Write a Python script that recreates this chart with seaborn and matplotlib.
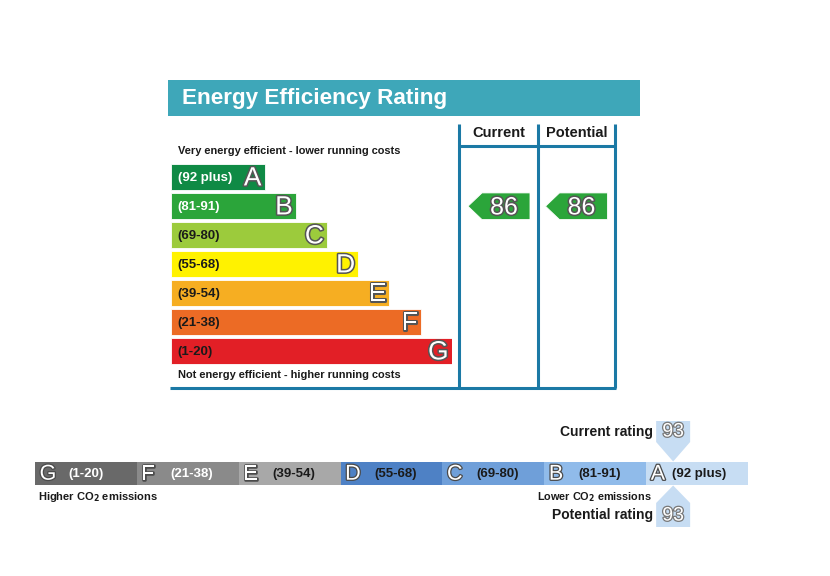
import matplotlib
matplotlib.use("Agg")
import matplotlib.pyplot as plt
import matplotlib.patheffects as pe
from matplotlib.patches import Rectangle, Polygon
from matplotlib.transforms import blended_transform_factory
import seaborn as sns
import pandas as pd

# ---------------- data ----------------
bands = ["A", "B", "C", "D", "E", "F", "G"]
band_ranges = ["(92 plus)", "(81-91)", "(69-80)", "(55-68)", "(39-54)", "(21-38)", "(1-20)"]
band_colors = ["#0f8a45", "#2ba53a", "#9ccb3c", "#fff200", "#f6ae22", "#ec6b25", "#e21f26"]
current_rating = 86
potential_rating = 86

co2_bands = ["G", "F", "E", "D", "C", "B", "A"]
co2_ranges = ["(1-20)", "(21-38)", "(39-54)", "(55-68)", "(69-80)", "(81-91)", "(92 plus)"]
co2_colors = ["#696969", "#8a8a8a", "#a8a8a8", "#4e81c5", "#6f9fd9", "#90bbea", "#c7ddf3"]
co2_current = 93
co2_potential = 93

band_lower = [92, 81, 69, 55, 39, 21, 1]

def band_index(v):
    for i, lo in enumerate(band_lower):
        if v >= lo:
            return i
    return len(band_lower) - 1

# ---------------- figure ----------------
sns.set_theme(style="white")
plt.rcParams["font.family"] = ["Liberation Sans", "DejaVu Sans"]
W, H = 830, 576
fig = plt.figure(figsize=(W / 100, H / 100), dpi=100)
fig.patch.set_facecolor("white")

ax = fig.add_axes([0, 0, 1, 1])
ax.set_xlim(0, W)
ax.set_ylim(H, 0)
ax.axis("off")

def fig_axes(x0, y0, x1, y1):
    return fig.add_axes([x0 / W, 1 - y1 / H, (x1 - x0) / W, (y1 - y0) / H])

outline = [pe.withStroke(linewidth=2.2, foreground="#555555")]
line_c = "#1b79a5"
dark = "#1a1a1a"

# title banner
ax.add_patch(Rectangle((168, 80), 472, 36, facecolor="#3ea7b9", edgecolor="none"))
ax.text(182, 98.5, "Energy Efficiency Rating", color="white", fontsize=16.2,
        fontweight="bold", va="center", ha="left")

# frame lines
for xv in (459, 537.5, 615):
    ax.plot([xv, xv], [124, 387.5], color=line_c, lw=2.2, solid_capstyle="butt")
ax.plot([459, 615], [146, 146], color=line_c, lw=2.2)
ax.plot([170, 616], [387.5, 387.5], color=line_c, lw=2.2, solid_capstyle="butt")
ax.text(498.5, 133, "Current", fontsize=10.5, fontweight="bold", ha="center", va="center", color=dark)
ax.text(576.5, 133, "Potential", fontsize=10.5, fontweight="bold", ha="center", va="center", color=dark)
ax.text(178, 151.5, "Very energy efficient - lower running costs", fontsize=7.9,
        fontweight="bold", ha="left", va="center", color=dark)
ax.text(178, 375.5, "Not energy efficient - higher running costs", fontsize=7.9,
        fontweight="bold", ha="left", va="center", color=dark)

# rating bars (seaborn)
unit = 31.2
axb = fig_axes(171, 162.75, 171 + 9 * unit, 162.75 + 7 * 29)
df = pd.DataFrame({"band": bands, "length": [i + 3 for i in range(len(bands))]})
sns.barplot(data=df, x="length", y="band", hue="band", palette=band_colors, orient="h",
            width=0.91, legend=False, ax=axb, edgecolor="white", linewidth=0.6, saturation=1)
axb.set_xlim(0, 9)
axb.set_ylim(6.5, -0.5)
axb.axis("off")
axb.patch.set_alpha(0)
for i, (b, r) in enumerate(zip(bands, band_ranges)):
    tcol = "white" if i < 2 else dark
    axb.text(0.22, i + 0.02, r, color=tcol, fontsize=9.5, fontweight="bold",
             ha="left", va="center")
    axb.text(i + 3 - 0.1, i + 0.04, b, color="white", fontsize=19, ha="right", va="center",
             path_effects=outline)

# current / potential arrows in the rating table
tb = blended_transform_factory(ax.transData, axb.transData)
for val, x0 in ((current_rating, 468), (potential_rating, 545.5)):
    i = band_index(val)
    h = 0.46
    poly = Polygon([(x0, i), (x0 + 14, i - h), (x0 + 62, i - h), (x0 + 62, i + h), (x0 + 14, i + h)],
                   closed=True, facecolor=band_colors[i], edgecolor="white", lw=0.6, transform=tb)
    ax.add_patch(poly)
    ax.text(x0 + 36, i + 0.04, str(val), transform=tb, fontsize=18, color="white",
            ha="center", va="center", path_effects=outline)

# CO2 bar (seaborn)
axc = fig_axes(35, 462, 748, 485)
dfc = pd.DataFrame({"band": co2_bands, "v": [1] * len(co2_bands)})
sns.barplot(data=dfc, x="band", y="v", hue="band", palette=co2_colors, width=1.0,
            legend=False, ax=axc, linewidth=0, saturation=1)
axc.set_xlim(-0.5, 6.5)
axc.set_ylim(0, 1)
axc.axis("off")
axc.patch.set_alpha(0)
for i, (b, r) in enumerate(zip(co2_bands, co2_ranges)):
    tc = "white" if i < 2 else dark
    axc.text(i - 0.455, 0.47, b, color="white", fontsize=15.5, ha="left", va="center",
             path_effects=[pe.withStroke(linewidth=1.8, foreground="#4a4a4a")])
    xoff = -0.25 if b == "A" else -0.17
    axc.text(i + xoff, 0.5, r, color=tc, fontsize=9.5, fontweight="bold", ha="left", va="center")

ax.text(38, 497.5, "Higher CO$_\\mathbf{2}$ emissions", fontsize=8, fontweight="bold",
        ha="left", va="center", color=dark)
ax.text(652, 497.5, "Lower CO$_\\mathbf{2}$ emissions", fontsize=7.8, fontweight="bold",
        ha="right", va="center", color=dark)
ax.text(653, 432, "Current rating", fontsize=10, fontweight="bold", ha="right", va="center",
        color=dark)
ax.text(653, 515, "Potential rating", fontsize=10, fontweight="bold", ha="right", va="center",
        color=dark)

# CO2 markers
tc_ = blended_transform_factory(axc.transData, ax.transData)
ic = 6 - band_index(co2_current)
ip = 6 - band_index(co2_potential)
wpx = 713 / 7
xc = ic - 0.5 + 27 / wpx
hw = 17 / wpx
ax.add_patch(Polygon([(xc - hw, 421), (xc + hw, 421), (xc + hw, 442), (xc, 461.5), (xc - hw, 442)],
                     closed=True, facecolor=co2_colors[ic], edgecolor="none", transform=tc_))
ax.text(xc, 432, str(co2_current), transform=tc_, fontsize=14, color="white", ha="center",
        va="center", path_effects=[pe.withStroke(linewidth=1.8, foreground="#777777")])
xp = ip - 0.5 + 27 / wpx
ax.add_patch(Polygon([(xp, 485.5), (xp + hw, 503), (xp + hw, 527), (xp - hw, 527), (xp - hw, 503)],
                     closed=True, facecolor=co2_colors[ip], edgecolor="none", transform=tc_))
ax.text(xp, 516, str(co2_potential), transform=tc_, fontsize=14, color="white", ha="center",
        va="center", path_effects=[pe.withStroke(linewidth=1.8, foreground="#777777")])

fig.savefig("out.png", dpi=100, facecolor="white")
